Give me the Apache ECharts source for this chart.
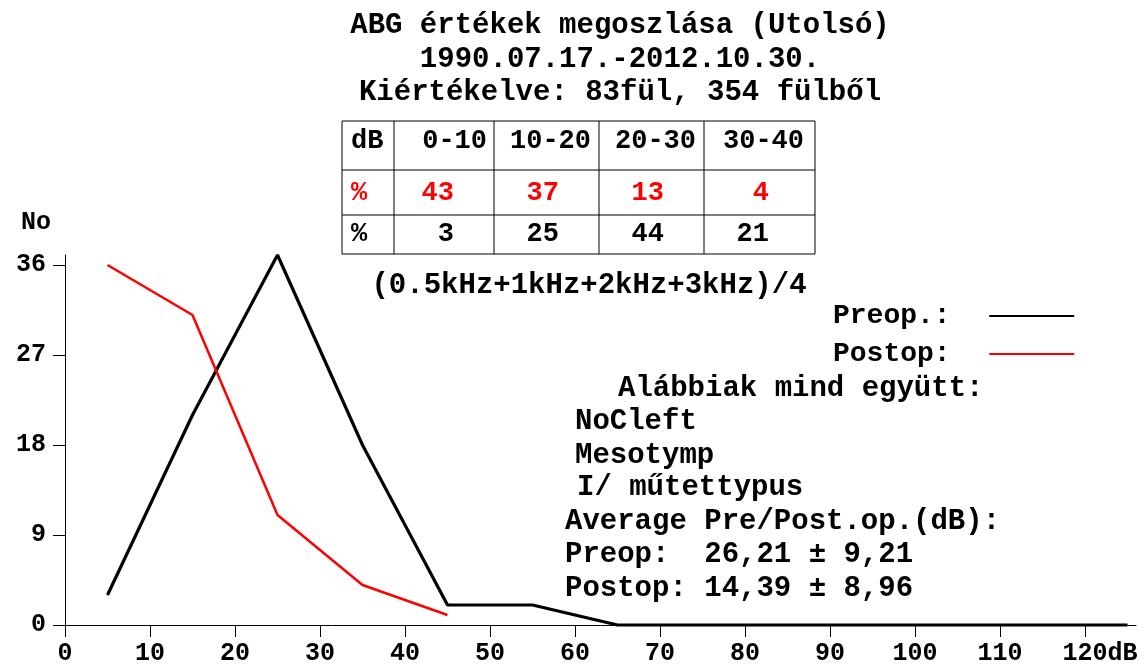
<!DOCTYPE html>
<html>
<head>
<meta charset="utf-8">
<script src="https://cdn.jsdelivr.net/npm/echarts@6/dist/echarts.min.js"></script>
<style>
html,body{margin:0;padding:0;background:#fff;}
#chart{width:1144px;height:666px;}
</style>
</head>
<body>
<div id="chart"></div>
<script>
// ---- data ----
const titleLines = ['ABG értékek megoszlása (Utolsó)', '1990.07.17.-2012.10.30.', 'Kiértékelve: 83fül, 354 fülből'];
const xMid = [5, 15, 25, 35, 45, 55, 65, 75, 85, 95, 105, 115, 125];
const preop = [3, 21, 37, 18, 2, 2, 0, 0, 0, 0, 0, 0, 0];
const postopX = [5, 15, 25, 35, 45];
const postop = [36, 31, 11, 4, 1];
const xTicks = [0, 10, 20, 30, 40, 50, 60, 70, 80, 90, 100, 110, 120];
const yTicks = [0, 9, 18, 27, 36];
const tableHeader = ['dB', '0-10', '10-20', '20-30', '30-40'];
const tablePostop = ['%', '43', '37', '13', '4'];
const tablePreop = ['%', '3', '25', '44', '21'];
const formulaText = '(0.5kHz+1kHz+2kHz+3kHz)/4';
const noteLines = ['Alábbiak mind együtt:', 'NoCleft', 'Mesotymp', 'I/ műtettypus', 'Average Pre/Post.op.(dB):', 'Preop:  26,21 ± 9,21', 'Postop: 14,39 ± 8,96'];
const seriesNames = ['Preop.:', 'Postop:'];

const FONT = '"Liberation Mono", "DejaVu Sans Mono", monospace';

// ---- table graphics ----
const colX = [342, 394, 494, 599, 704, 815];
const rowY = [121, 170, 215, 254];
const graphics = [];
rowY.forEach(y => graphics.push({type:'line', shape:{x1:colX[0], y1:y, x2:colX[colX.length-1], y2:y}, style:{stroke:'#000', lineWidth:1}}));
colX.forEach(x => graphics.push({type:'line', shape:{x1:x, y1:rowY[0], x2:x, y2:rowY[rowY.length-1]}, style:{stroke:'#000', lineWidth:1}}));
function cellText(txt, x, y, align, color) {
  graphics.push({type:'text', x:x, y:y, style:{text:txt, font:'bold 27px ' + FONT, fill:color, align:align, verticalAlign:'middle'}});
}
const headerRight = [null, 487, 591, 696, 804];
tableHeader.forEach((t, i) => i === 0 ? cellText(t, 351, 141, 'left', '#000') : cellText(t, headerRight[i], 141, 'right', '#000'));
const numRight = [null, 454, 559, 664, 769];
tablePostop.forEach((t, i) => i === 0 ? cellText(t, 351, 193, 'left', '#ff0000') : cellText(t, numRight[i], 193, 'right', '#ff0000'));
tablePreop.forEach((t, i) => i === 0 ? cellText(t, 351, 234, 'left', '#000') : cellText(t, numRight[i], 234, 'right', '#000'));

graphics.push({type:'text', x:589, y:286, style:{text:formulaText, font:'bold 29px ' + FONT, fill:'#000', align:'center', verticalAlign:'middle'}});

const noteX = [618, 575, 575, 577, 565, 565, 565];
const noteY = [389, 422, 456, 488, 522, 555, 589];
noteLines.forEach((t, i) => graphics.push({type:'text', x:noteX[i], y:noteY[i], style:{text:t, font:'bold 29px ' + FONT, fill:'#000', align:'left', verticalAlign:'middle'}}));

const chart = echarts.init(document.getElementById('chart'));
chart.setOption({
  backgroundColor: '#fff',
  animation: false,
  title: {
    text: titleLines.join('\n'),
    left: 615, top: 4, textAlign: 'center',
    textStyle: {fontFamily: FONT, fontWeight: 'bold', fontSize: 29, lineHeight: 33.5, color: '#000'}
  },
  legend: {
    orient: 'vertical', left: 828, top: 297, align: 'right',
    icon: 'rect', itemWidth: 85, itemHeight: 2, itemGap: 10,
    data: seriesNames,
    formatter: n => n + '  ',
    textStyle: {fontFamily: FONT, fontWeight: 'bold', fontSize: 28, lineHeight: 28, color: '#000'}
  },
  grid: {left: 65, right: 8, top: 255, bottom: 41, containLabel: false},
  xAxis: {
    type: 'value', min: 0, max: 126, interval: 10,
    axisLine: {show: true, onZero: false, lineStyle: {color: '#000', width: 1}},
    axisTick: {show: true, length: 12, customValues: xTicks, lineStyle: {color: '#000', width: 1}},
    splitLine: {show: false},
    axisLabel: {
      customValues: xTicks, margin: 16, color: '#000',
      fontFamily: FONT, fontWeight: 'bold', fontSize: 25,
      formatter: v => v === 120 ? '{u|120dB}' : String(v),
      rich: {u: {fontFamily: FONT, fontWeight: 'bold', fontSize: 25, color: '#000', padding: [0, 0, 0, 30]}}
    }
  },
  yAxis: {
    type: 'value', min: 0, max: 37, interval: 9,
    name: 'No', nameLocation: 'end', nameGap: 20,
    nameTextStyle: {fontFamily: FONT, fontWeight: 'bold', fontSize: 25, color: '#000', align: 'right', verticalAlign: 'bottom', padding: [0, 14, 0, 0]},
    axisLine: {show: true, lineStyle: {color: '#000', width: 1}},
    axisTick: {show: true, length: 12, customValues: yTicks, lineStyle: {color: '#000', width: 1}},
    splitLine: {show: false},
    axisLabel: {customValues: yTicks, margin: 19, color: '#000', fontFamily: FONT, fontWeight: 'bold', fontSize: 25}
  },
  series: [
    {name: seriesNames[0], type: 'line', data: xMid.map((x, i) => [x, preop[i]]), symbol: 'none', clip: false,
     lineStyle: {color: '#000', width: 3.2}, itemStyle: {color: '#000'}},
    {name: seriesNames[1], type: 'line', data: postopX.map((x, i) => [x, postop[i]]), symbol: 'none', clip: false,
     lineStyle: {color: '#ff0000', width: 2.5}, itemStyle: {color: '#ff0000'}}
  ],
  graphic: graphics
});
</script>
</body>
</html>
